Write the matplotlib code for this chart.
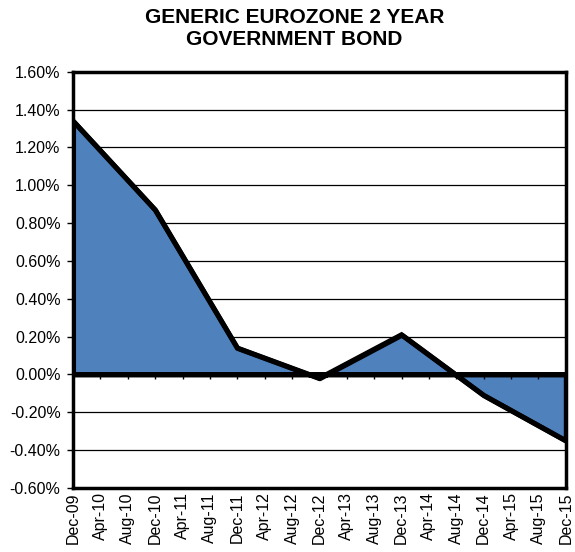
import matplotlib
matplotlib.use("Agg")
import matplotlib.pyplot as plt
import numpy as np
from matplotlib.ticker import FuncFormatter

# Data (yearly observations, percent)
dates = ["Dec-09", "Dec-10", "Dec-11", "Dec-12", "Dec-13", "Dec-14", "Dec-15"]
yields = [1.34, 0.87, 0.14, -0.02, 0.21, -0.11, -0.35]
tick_labels = ["Dec-09", "Apr-10", "Aug-10", "Dec-10", "Apr-11", "Aug-11",
               "Dec-11", "Apr-12", "Aug-12", "Dec-12", "Apr-13", "Aug-13",
               "Dec-13", "Apr-14", "Aug-14", "Dec-14", "Apr-15", "Aug-15", "Dec-15"]
y_ticks = [-0.6, -0.4, -0.2, 0.0, 0.2, 0.4, 0.6, 0.8, 1.0, 1.2, 1.4, 1.6]

plt.rcParams['font.family'] = ['Liberation Sans', 'DejaVu Sans']

fig = plt.figure(figsize=(5.75, 5.52), dpi=100)
ax = fig.add_axes([0.127, 0.116, 0.857, 0.754])

x = np.arange(len(dates)) * 12  # months since Dec-09
y = np.array(yields)
xt = np.arange(len(tick_labels)) * 4

ax.set_xlim(0, 72)
ax.set_ylim(-0.6, 1.6)
ax.set_yticks(y_ticks)
ax.yaxis.set_major_formatter(FuncFormatter(lambda v, p: f"{v:.2f}%"))
ax.grid(axis='y', color='black', linewidth=0.9, zorder=0)
ax.set_axisbelow(True)

lw = 3.6
ax.fill_between(x, y, 0, facecolor='#4F81BD', edgecolor='black', linewidth=lw, zorder=2)
ax.plot(x, y, color='black', linewidth=lw, solid_joinstyle='miter', zorder=3)
ax.axhline(0, color='black', linewidth=lw, zorder=4)
ax.vlines(xt, -0.025, 0, color='black', linewidth=1.0, zorder=4)

ax.set_xticks(xt)
ax.set_xticklabels(tick_labels, rotation=90, fontsize=11.5)
ax.tick_params(axis='x', length=0, pad=3)
ax.tick_params(axis='y', length=4, width=1, labelsize=11.5, direction='out', pad=5)
for s in ax.spines.values():
    s.set_linewidth(2.5)
    s.set_color('black')

fig.suptitle("GENERIC EUROZONE 2 YEAR\nGOVERNMENT BOND", fontsize=15, fontweight='bold',
             x=0.512, y=0.985, va='top', linespacing=1.2)

fig.savefig("out.png", dpi=100)
